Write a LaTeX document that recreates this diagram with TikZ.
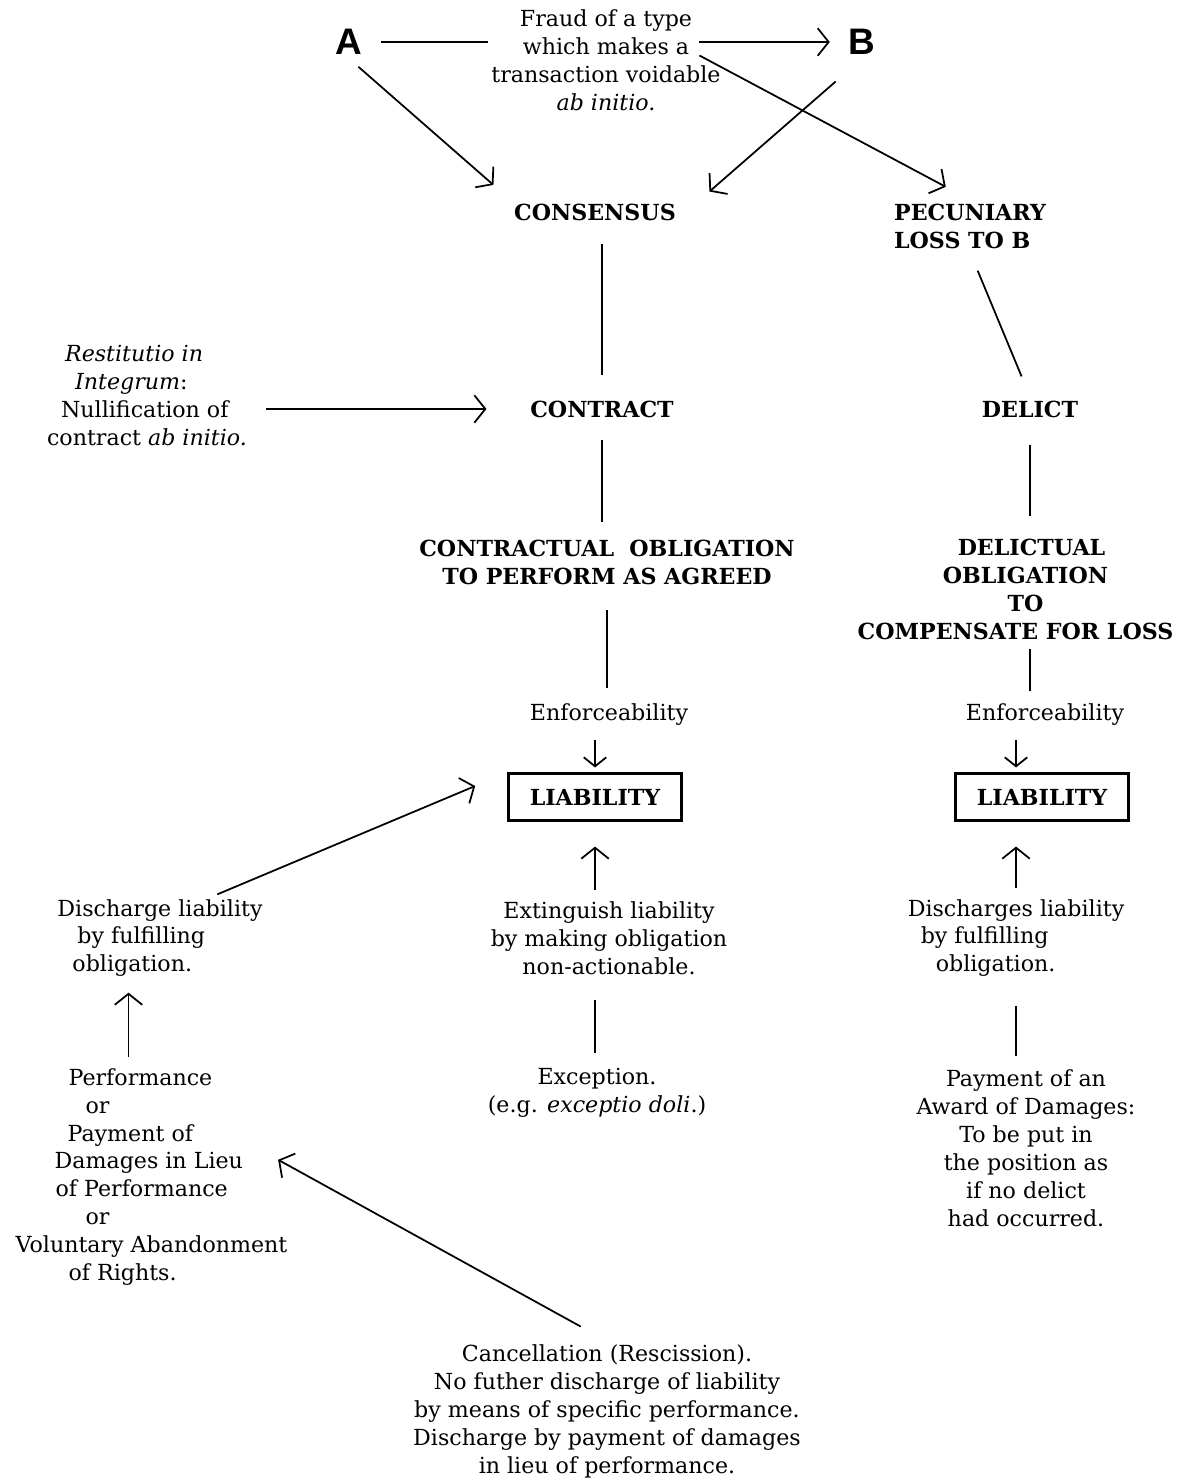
\documentclass[tikz,border=0pt]{standalone}
\usepackage{fontspec}
\setmainfont{DejaVu Serif}
\setsansfont{Liberation Sans}
\usepackage{tikz}
\usetikzlibrary{arrows.meta, positioning}

\begin{document}
\begin{tikzpicture}[
    txt/.style={align=center, font=\fontsize{12.6}{15.9}\selectfont, inner sep=2pt},
    head/.style={txt, font=\fontsize{12.6}{15.9}\selectfont\bfseries},
    party/.style={font=\fontsize{21}{21}\selectfont\sffamily\bfseries, inner sep=2pt},
    liab/.style={head, draw, line width=1.2pt, minimum width=3.46cm, minimum height=0.94cm},
    link/.style={line width=1pt},
    arrow/.style={link, -{Straight Barb[length=2.2mm, width=5.5mm]}},
    small arrow/.style={link, -{Straight Barb[length=1.8mm, width=4.5mm]}}
]
    \useasboundingbox (0,0) rectangle (23.86,-29.6);

    % Nodes
    \node[party] (A) at (6.98,-0.84) {A};
    \node[party] (B) at (17.24,-0.84) {B};
    \node[txt] (fraud) at (12.12,-1.21) {Fraud of a type\\which makes a\\transaction voidable\\\textit{ab initio.}};
    \node[head] (consensus) at (11.9,-4.24) {CONSENSUS};
    \node[head, align=left] (pecuniary) at (19.4,-4.52) {PECUNIARY\\LOSS TO B};
    \node[txt, align=left] (restitutio) at (2.94,-7.91) {\hspace*{0.36cm}\textit{Restitutio in}\\\hspace*{0.56cm}\textit{Integrum}:\\\hspace*{0.28cm}Nullification of\\contract \textit{ab initio.}};
    \node[head] (contract) at (12.04,-8.18) {CONTRACT};
    \node[head] (delict) at (20.6,-8.18) {DELICT};
    \node[head] (contractual) at (12.14,-11.24) {CONTRACTUAL\ \ OBLIGATION\\TO PERFORM AS AGREED};
    \node[head] (delictual) at (20.31,-11.79) {\hspace*{0.64cm}DELICTUAL\\\hspace*{0.4cm}OBLIGATION\\\hspace*{0.4cm}TO\\COMPENSATE FOR LOSS};
    \node[txt] (enfc) at (12.18,-14.3) {Enforceability};
    \node[txt] (enfd) at (20.9,-14.3) {Enforceability};
    \node[liab] (liabc) at (11.9,-15.94) {LIABILITY};
    \node[liab] (liabd) at (20.84,-15.94) {LIABILITY};
    \node[txt, align=left] (dischc) at (3.2,-18.76) {Discharge liability\\\hspace*{0.4cm}by fulfilling\\\hspace*{0.3cm}obligation.};
    \node[txt] (extinguish) at (12.18,-18.76) {Extinguish liability\\by making obligation\\non-actionable.};
    \node[txt, align=left] (dischd) at (20.32,-18.76) {Discharges liability\\\hspace*{0.26cm}by fulfilling\\\hspace*{0.56cm}obligation.};
    \node[txt, align=left] (performance) at (3.03,-23.54) {\hspace*{1.06cm}Performance\\\hspace*{1.4cm}or\\\hspace*{1.04cm}Payment of\\\hspace*{0.78cm}Damages in Lieu\\\hspace*{0.8cm}of Performance\\\hspace*{1.4cm}or\\Voluntary Abandonment\\\hspace*{1.06cm}of Rights.};
    \node[txt] (exception) at (11.94,-21.86) {Exception.\\(e.g. \textit{exceptio doli}.)};
    \node[txt] (payment) at (20.52,-22.96) {Payment of an\\Award of Damages:\\To be put in\\the position as\\if no delict\\had occurred.};
    \node[txt] (cancel) at (12.14,-28.23) {Cancellation (Rescission).\\No futher discharge of liability\\by means of specific performance.\\Discharge by payment of damages\\in lieu of performance.};

    % Top
    \draw[link, shorten <=3mm] (A.east) -- (A -| fraud.west);
    \draw[arrow, shorten <=-5mm, shorten >=3mm] (fraud.east |- B) -- (B.west);
    \draw[arrow, shorten >=5.5mm] ([xshift=-5mm, yshift=1mm]fraud.east) -- (pecuniary.north);
    \draw[arrow, shorten <=2.5mm, shorten >=4.5mm] (A.south) -- (consensus.north west);
    \draw[arrow, shorten <=7mm, shorten >=2.5mm] (B.south) -- ([xshift=2.1cm]consensus.north);

    % Contract side
    \draw[link, shorten <=4mm, shorten >=4.4mm] (contract.north |- consensus.south) -- (contract.north);
    \draw[arrow, shorten <=3mm, shorten >=8mm] (restitutio.east |- contract) -- (contract.west);
    \draw[link, shorten <=3.8mm, shorten >=2.8mm] (contract.south) -- (contract.south |- contractual.north);
    \draw[link, shorten <=4.4mm, shorten >=2.4mm] (contractual.south) -- (contractual.south |- enfc.north);
    \draw[small arrow, shorten <=2mm, shorten >=1mm] (liabc.north |- enfc.south) -- (liabc.north);

    % Delict side
    \draw[link, shorten <=4mm, shorten >=4.4mm] (pecuniary.south) -- (delict.north);
    \draw[link, shorten <=4.8mm, shorten >=3.8mm] (delict.south) -- (delict.south |- delictual.north);
    \draw[link, shorten <=1mm, shorten >=1.8mm] (delict.south |- delictual.south) -- (delict.south |- enfd.north);
    \draw[small arrow, shorten <=2mm, shorten >=1mm] (dischd.north |- enfd.south) -- (dischd.north |- liabd.north);

    % Discharge
    \draw[arrow, shorten <=0.5mm, shorten >=7mm] ([xshift=1.1cm]dischc.north) -- (liabc.north west);
    \draw[arrow, shorten <=1.5mm, shorten >=5mm] (extinguish.north -| liabc.south) -- (liabc.south);
    \draw[link, shorten <=4.4mm, shorten >=2.4mm] (extinguish.south -| liabc.south) -- (exception.north -| liabc.south);
    \draw[arrow, shorten <=1.5mm, shorten >=2.4mm] ([xshift=-4.6mm]performance.north) -- ([xshift=-4.6mm]performance.north |- dischc.south);
    \draw[arrow, shorten <=6mm, shorten >=-3mm] (cancel.north) -- ([yshift=2mm]performance.east);
    \draw[arrow, shorten <=1.5mm, shorten >=5mm] (dischd.north) -- (dischd.north |- liabd.south);
    \draw[link, shorten <=5mm, shorten >=2mm] (dischd.south) -- (dischd.south |- payment.north);
\end{tikzpicture}
\end{document}
